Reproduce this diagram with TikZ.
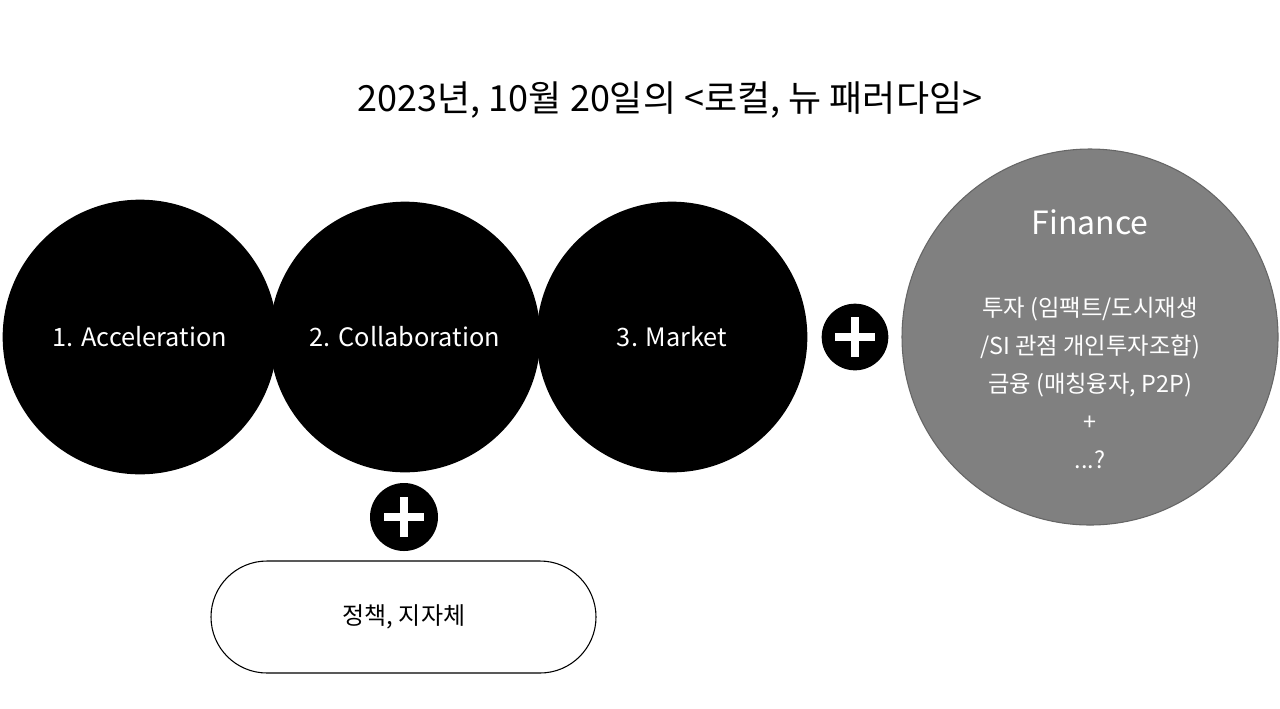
\documentclass[tikz,border=0pt]{standalone}
\usepackage{fontspec}
\setmainfont{Noto Sans CJK KR}
\begin{document}
\begin{tikzpicture}[x=0.75pt,y=-0.75pt]
\tikzset{blk/.style={circle,fill=black,inner sep=0pt},
 lab/.style={text=white,font=\fontsize{19}{22}\selectfont},
 plusc/.style={circle,fill=black,minimum size=67.5pt,inner sep=0pt}}
\useasboundingbox[fill=white] (0,0) rectangle (1280,708);
\node (title) at (670,100) {\fontsize{27}{30}\selectfont 2023년, 10월 20일의 <로컬, 뉴 패러다임>};
\node[blk,minimum size=206pt] (c1) at (140,337) {};
\node[blk,minimum size=203pt] (c2) at (405,337) {};
\node[blk,minimum size=203pt] (c3) at (672,337) {};
\node[lab] at (c1) {1. Acceleration};
\node[lab] at (c2) {2. Collaboration};
\node[lab] at (c3) {3. Market};
\node[circle,fill=gray!100!black,fill=black!50,draw=black!60,line width=0.8pt,minimum size=282pt,inner sep=0pt] (fin) at (1090,337) {};
\node[text=white,font=\fontsize{24}{28}\selectfont] (ft) at (1090,222) {Finance};
\node[text=white,font=\fontsize{17.5}{28.5}\selectfont,align=center] (fb) at (1090,383) {투자 (임팩트/도시재생\\/SI 관점 개인투자조합)\\금융 (매칭융자, P2P)\\+\\...?};
\node[plusc,minimum size=50pt] (p1) at (855,337) {};
\node[plusc,minimum size=51pt] (p2) at (404,517) {};
\foreach \p in {p1,p2}{
 \draw[white,line width=6pt] ([xshift=-15pt]\p.center) -- ([xshift=15pt]\p.center);
 \draw[white,line width=6pt] ([yshift=-15pt]\p.center) -- ([yshift=15pt]\p.center);}
\draw[line width=0.8pt,rounded corners=42pt] (211,561) rectangle (596,673);
\node[font=\fontsize{18}{22}\selectfont] (pol) at (404,617) {정책, 지자체};
\end{tikzpicture}
\end{document}
